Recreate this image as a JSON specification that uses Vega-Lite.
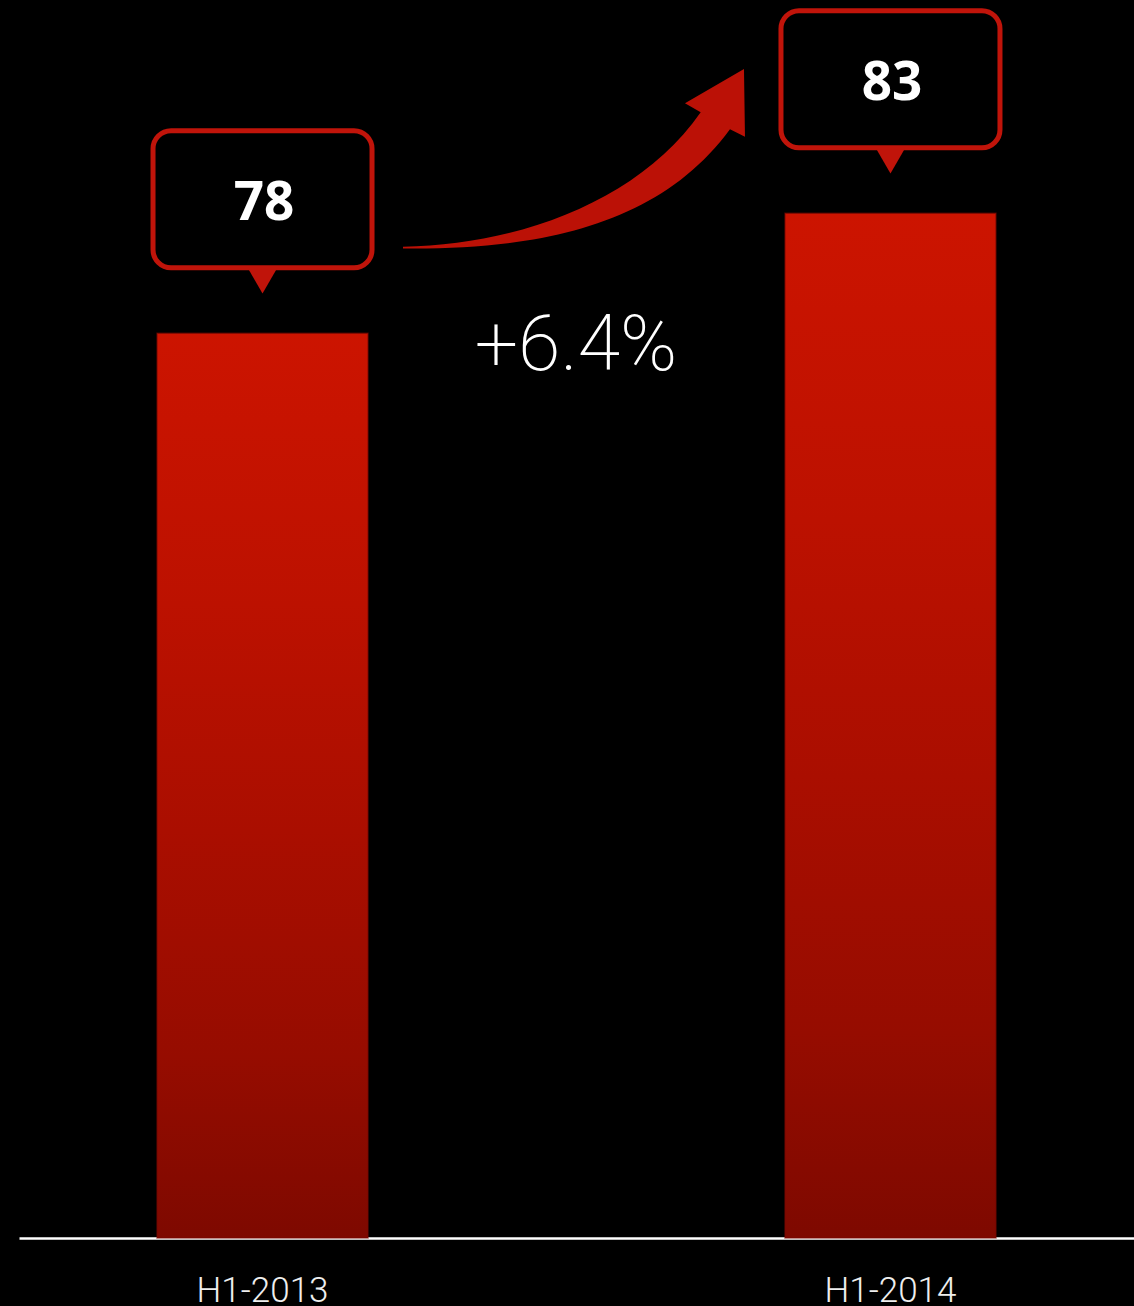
{
  "$schema": "https://vega.github.io/schema/vega-lite/v6.json",
  "width": 1115,
  "height": 1238,
  "autosize": {"type": "none"},
  "padding": {"left": 19, "right": 0, "top": 0, "bottom": 68},
  "background": "#000000",
  "config": {"view": {"stroke": null}},
  "data": {
    "values": [
      {"period": "H1-2013", "value": 78},
      {"period": "H1-2014", "value": 83, "change": "+6.4%"}
    ]
  },
  "encoding": {
    "x": {
      "field": "period",
      "type": "nominal",
      "sort": null,
      "scale": {"paddingInner": 0.664, "paddingOuter": 0.2198},
      "axis": {
        "title": null,
        "labelAngle": 0,
        "ticks": false,
        "tickSize": 0,
        "domain": true,
        "domainColor": "#ffffff",
        "domainWidth": 2.5,
        "labelColor": "#eeeeee",
        "labelFont": "Roboto",
        "labelFontWeight": 300,
        "labelFontSize": 35,
        "labelBaseline": "alphabetic",
        "labelPadding": 63,
        "grid": false
      }
    },
    "y": {
      "field": "value",
      "type": "quantitative",
      "scale": {"domain": [40.304, 91.8875], "zero": false, "nice": false},
      "axis": null
    }
  },
  "layer": [
    {
      "mark": {
        "type": "bar",
        "stroke": "#780800",
        "strokeWidth": 1.5,
        "strokeOpacity": 0.6,
        "fill": {
          "gradient": "linear",
          "x1": 0, "y1": 0, "x2": 0, "y2": 1,
          "stops": [
            {"offset": 0, "color": "#cc1400"},
            {"offset": 0.3, "color": "#bc1100"},
            {"offset": 0.55, "color": "#aa0e00"},
            {"offset": 0.8, "color": "#960c00"},
            {"offset": 1, "color": "#7e0900"}
          ]
        }
      },
      "encoding": {"y2": {"datum": 40.304}}
    },
    {
      "mark": {
        "type": "bar",
        "width": 219,
        "cornerRadius": 18,
        "fill": "#000000",
        "stroke": "#c0140a",
        "strokeWidth": 5,
        "yOffset": -202.5,
        "y2Offset": -65.5
      },
      "encoding": {"y2": {"field": "value"}}
    },
    {
      "mark": {
        "type": "point",
        "shape": "triangle-down",
        "size": 784,
        "filled": true,
        "opacity": 1,
        "color": "#c0140a",
        "yOffset": -52
      }
    },
    {
      "mark": {
        "type": "text",
        "font": "Open Sans",
        "fontWeight": "bold",
        "fontSize": 53,
        "color": "#ffffff",
        "align": "center",
        "baseline": "alphabetic",
        "xOffset": 1.5,
        "yOffset": -113
      },
      "encoding": {"text": {"field": "value", "type": "quantitative"}}
    },
    {
      "transform": [{"filter": "isValid(datum.change)"}],
      "mark": {
        "type": "point",
        "shape": "M-1,0.5129C-0.3158,0.5029,0.386,0.2398,0.7409,-0.2731L0.6491,-0.3257L0.9942,-0.5263L1,-0.1304L0.9123,-0.1737C0.5029,0.386,-0.1988,0.5322,-1,0.5234Z",
        "size": 116964,
        "filled": true,
        "opacity": 1,
        "strokeWidth": 0,
        "color": "#bb1106",
        "xOffset": -316.5,
        "yOffset": -54.3
      }
    },
    {
      "transform": [{"filter": "isValid(datum.change)"}],
      "mark": {
        "type": "text",
        "font": "Roboto",
        "fontWeight": 200,
        "fontSize": 77,
        "color": "#ffffff",
        "align": "center",
        "baseline": "alphabetic",
        "xOffset": -314.5,
        "yOffset": 156.7
      },
      "encoding": {"text": {"field": "change", "type": "nominal"}}
    }
  ]
}
